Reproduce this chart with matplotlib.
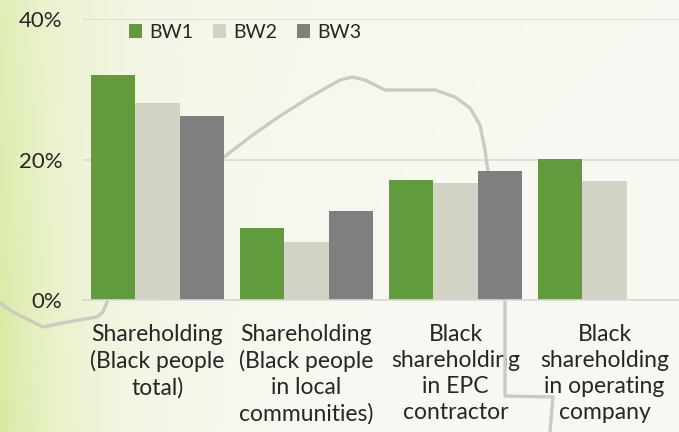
import numpy as np
import matplotlib.pyplot as plt
from matplotlib.colors import to_rgb

plt.rcParams['font.family'] = ['Lato', 'DejaVu Sans']

# data (percent)
categories = ['Shareholding\n(Black people\ntotal)',
              'Shareholding\n(Black people\nin local\ncommunities)',
              'Black\nshareholding\nin EPC\ncontractor',
              'Black\nshareholding\nin operating\ncompany']
series = ['BW1', 'BW2', 'BW3']
bw1 = [32.0, 10.3, 17.1, 20.1]
bw2 = [28.0, 8.3, 16.7, 16.9]
bw3 = [26.2, 12.7, 18.3, np.nan]
yticks = [0, 20, 40]

colors = ['#629b3d', '#d3d3c5', '#7f7f7f']
text_col = '#262626'

W, H = 679, 432
fig = plt.figure(figsize=(W / 100, H / 100), dpi=100)

# slide background: pale gradient, greener on the left
bg = fig.add_axes([0, 0, 1, 1], zorder=-10)
xx, yy = np.meshgrid(np.arange(W), np.arange(H))
wgt = np.exp(-xx / 80.0) * (0.6 + 0.4 * yy / H) + 0.12 * np.exp(-xx / 400.0) * (1 - yy / H)
wgt = np.clip(wgt, 0, 1)
base = np.array(to_rgb('#f8f9f3'))
green = np.array(to_rgb('#d8ea9e'))
img = base[None, None, :] * (1 - wgt[..., None]) + green[None, None, :] * wgt[..., None]
bg.imshow(img, aspect='auto', extent=[0, 1, 0, 1])
bg.set_axis_off()

ax = fig.add_axes([83 / W, 132 / H, 596 / W, 281 / H])
ax.patch.set_alpha(0)

x = np.arange(len(categories))
bw = 0.297
for i, (vals, c, name) in enumerate(zip([bw1, bw2, bw3], colors, series)):
    ax.bar(x + (i - 1) * bw, vals, width=bw, color=c, label=name, zorder=2)

# decorative curve from the slide template
px = np.array([0, 13, 43, 67, 97, 103, 107, 130, 180, 224, 250, 277, 310, 340, 352,
               365, 385, 435, 455, 470, 480, 485, 488, 500, 505, 505, 553, 550])
py = np.array([303, 312, 327, 322, 317, 312, 302, 250, 195, 157, 137, 118, 97, 80, 77,
               80, 90, 90, 97, 108, 125, 150, 172, 250, 302, 396, 397, 432])
ax.plot(px / W, 1 - py / H, transform=fig.transFigure, color='#cbcbc3', lw=2.4,
        zorder=1, clip_on=False, solid_joinstyle='round')

ax.set_xlim(-0.5, 3.5)
ax.set_ylim(0, 40)
ax.set_yticks(yticks)
ax.set_yticklabels([f'{v}%' for v in yticks])
ax.set_xticks(x)
ax.set_xticklabels(categories, linespacing=1.3)
ax.set_axisbelow(True)
ax.yaxis.grid(True, color='#d9d9d9', lw=1.2)
for s in ['top', 'right', 'left']:
    ax.spines[s].set_visible(False)
ax.spines['bottom'].set_color('#d9d9d9')
ax.spines['bottom'].set_linewidth(1.2)
ax.tick_params(axis='y', length=0, labelsize=16, pad=15, labelcolor=text_col)
ax.tick_params(axis='x', length=0, labelsize=16.5, pad=17, labelcolor=text_col)

fig.legend(loc='center', bbox_to_anchor=(245 / W, 1 - 32 / H), ncol=3, frameon=False,
           fontsize=14, handlelength=0.7, handleheight=0.7, handletextpad=0.35,
           columnspacing=1.0, labelcolor=text_col)

fig.savefig('out.png', dpi=100)
